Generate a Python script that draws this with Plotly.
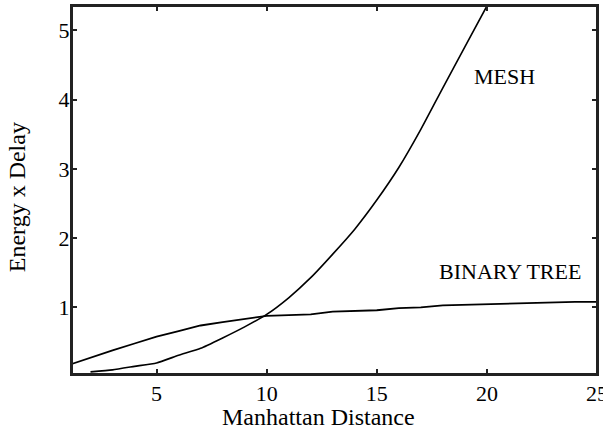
import plotly.graph_objects as go

# Data
distance_tree = [1, 2, 3, 4, 5, 6, 7, 8, 9, 10, 11, 12, 13, 14, 15, 16, 17, 18, 19, 20, 21, 22, 23, 24, 25]
binary_tree = [0.17, 0.28, 0.38, 0.48, 0.58, 0.66, 0.74, 0.79, 0.84, 0.88, 0.89, 0.90, 0.94, 0.95, 0.96,
               0.99, 1.00, 1.03, 1.04, 1.04, 1.06, 1.07, 1.075, 1.08, 1.08]

distance_mesh = [2, 3, 4, 5, 6, 7, 8, 9, 10, 11, 12, 13, 14, 15, 16, 17, 18, 19, 20]
mesh = [0.07, 0.10, 0.15, 0.20, 0.31, 0.41, 0.56, 0.72, 0.90, 1.14, 1.43, 1.77, 2.13, 2.55, 3.02,
        3.57, 4.17, 4.76, 5.35]

x_ticks = [5, 10, 15, 20, 25]
y_ticks = [1, 2, 3, 4, 5]

FONT = "Liberation Serif"

fig = go.Figure()
fig.add_trace(go.Scatter(x=distance_tree, y=binary_tree, mode="lines",
                         line=dict(color="black", width=1.8), showlegend=False))
fig.add_trace(go.Scatter(x=distance_mesh, y=mesh, mode="lines",
                         line=dict(color="black", width=1.6, shape="spline", smoothing=0.5),
                         showlegend=False))

axis_common = dict(showgrid=False, zeroline=False, showline=True, linecolor="#222",
                   linewidth=2, mirror="allticks", ticks="inside", ticklen=5, tickwidth=2,
                   tickcolor="#222", automargin=False, ticklabeloverflow="allow",
                   tickfont=dict(family=FONT, size=22, color="black"))

fig.update_xaxes(range=[1.16, 25.0], tickvals=x_ticks, ticklabelstandoff=-1, **axis_common)
fig.update_yaxes(range=[0.04, 5.35], tickvals=y_ticks, ticklabelstandoff=-4, **axis_common)

fig.add_shape(type="rect", xref="paper", yref="paper", x0=0, y0=0, x1=1, y1=1,
              line=dict(color="#222", width=2), fillcolor="rgba(0,0,0,0)", layer="above")

fig.add_annotation(x=20.8, y=4.33, text="MESH", showarrow=False,
                   font=dict(family=FONT, size=22, color="black"))
fig.add_annotation(x=21.04, y=1.52, text="BINARY TREE", showarrow=False,
                   font=dict(family=FONT, size=22, color="black"))
fig.add_annotation(xref="paper", yref="paper", x=0.469, y=-0.117, yanchor="middle",
                   text="Manhattan Distance", showarrow=False,
                   font=dict(family=FONT, size=24, color="black"))
fig.add_annotation(xref="paper", yref="paper", x=-0.105, xanchor="center", y=0.48, textangle=-90,
                   text="Energy x Delay", showarrow=False,
                   font=dict(family=FONT, size=24, color="black"))

fig.update_layout(width=603, height=429, margin=dict(l=72, r=6, t=6, b=55),
                  paper_bgcolor="white", plot_bgcolor="white",
                  font=dict(family=FONT, color="black"))

fig.write_html("out.html", config={"displayModeBar": False},
               post_script="document.body.style.margin='0';document.body.style.overflow='hidden';")
